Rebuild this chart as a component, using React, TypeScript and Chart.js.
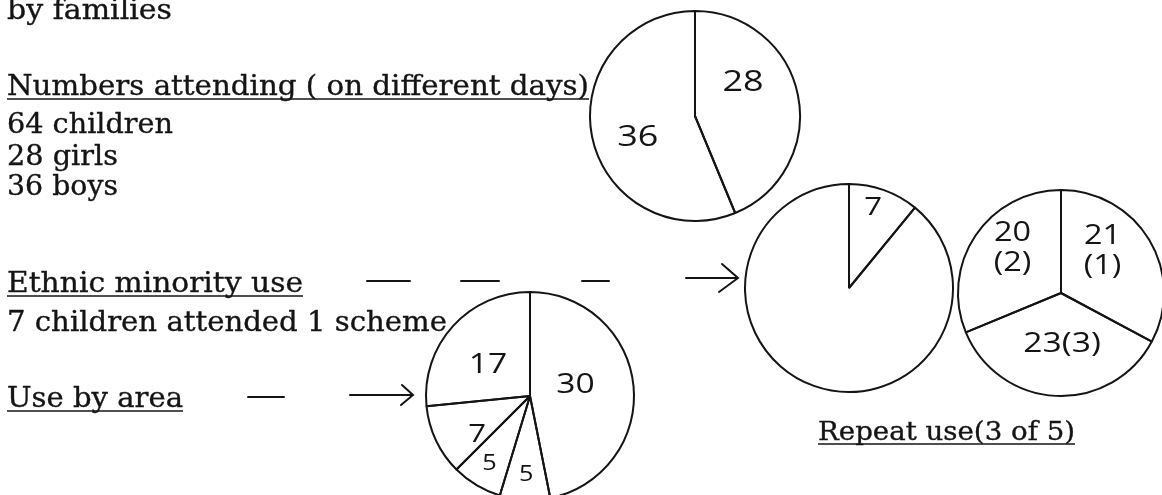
import React, { useEffect, useRef } from "react";
import { Chart, registerables } from "chart.js";

Chart.register(...registerables);

// ---------------- data ----------------
const genderLabels = ["Girls", "Boys"];
const genderValues = [28, 36];

const ethnicLabels = ["Ethnic minority", "Other children"];
const ethnicValues = [7, 57];

const repeatLabels = ["Scheme 1", "Scheme 3", "Scheme 2"];
const repeatValues = [21, 23, 20];
const repeatSchemes = [1, 3, 2];

const areaLabels = ["Area 1", "Area 2", "Area 3", "Area 4", "Area 5"];
const areaValues = [30, 5, 5, 7, 17];

const totalChildren = genderValues.reduce((a, b) => a + b, 0);

const headingTexts = [
  "by families",
  "Numbers attending ( on different days)",
  `${totalChildren} children`,
  `${genderValues[0]} girls`,
  `${genderValues[1]} boys`,
  "Ethnic minority use",
  `${ethnicValues[0]} children attended 1 scheme`,
  "Use by area",
  "Repeat use(3 of 5)",
];

// ---------------- layout / style ----------------
// [x, baseline, width, underlined, fontSize]
const textLayout: [number, number, number, boolean, number][] = [
  [7, 19, 165, false, 27],
  [7, 95, 582, true, 27],
  [7, 133, 166, false, 27],
  [7, 165, 111, false, 27],
  [7, 195, 111, false, 27],
  [7, 292, 296, true, 27],
  [7, 331, 440, false, 27],
  [7, 407, 176, true, 27],
  [818, 440, 257, true, 26],
];

const INK = "#141414";

const handLabels = {
  id: "handLabels",
  afterDatasetsDraw(chart: any, _args: any, opts: any) {
    const { ctx } = chart;
    const meta = chart.getDatasetMeta(0);
    meta.data.forEach((arc: any, i: number) => {
      const lines: string[] = opts.text[i];
      if (!lines || !lines.length) return;
      const p = arc.getProps(["x", "y", "startAngle", "endAngle", "outerRadius"], true);
      const place = opts.place[i];
      const mid = (p.startAngle + p.endAngle) / 2 + (place[0] * Math.PI) / 180;
      const d = p.outerRadius * place[1];
      const x = p.x + Math.cos(mid) * d;
      const y = p.y + Math.sin(mid) * d;
      const size = place[2] ?? opts.size;
      ctx.save();
      ctx.font = `${opts.weight} ${size}px ${opts.family}`;
      ctx.fillStyle = INK;
      ctx.textAlign = "center";
      ctx.textBaseline = "middle";
      ctx.translate(x, y);
      ctx.scale(opts.stretch, 1);
      const lh = size * 1.1;
      lines.forEach((t, k) => ctx.fillText(t, 0, (k - (lines.length - 1) / 2) * lh));
      ctx.restore();
    });
  },
};

type PieProps = {
  labels: string[];
  values: number[];
  text: string[][];
  place: number[][];
  cx: number;
  cy: number;
  r: number;
};

function HandPie({ labels, values, text, place, cx, cy, r }: PieProps) {
  const ref = useRef<HTMLCanvasElement>(null);
  const S = 2 * r + 10;
  useEffect(() => {
    const chart = new Chart(ref.current as HTMLCanvasElement, {
      type: "pie",
      data: {
        labels,
        datasets: [
          {
            data: values,
            backgroundColor: "rgba(255,255,255,0)",
            borderColor: INK,
            borderWidth: 2,
            hoverOffset: 0,
          } as any,
        ],
      },
      options: {
        responsive: false,
        maintainAspectRatio: false,
        animation: false,
        events: [],
        layout: { padding: 4 },
        plugins: {
          legend: { display: false },
          tooltip: { enabled: false },
          handLabels: {
            text,
            place,
            size: 30,
            weight: 400,
            family: "'Open Sans', 'DejaVu Sans', sans-serif",
            stretch: 1.2,
          },
        } as any,
      },
      plugins: [handLabels as any],
    });
    return () => chart.destroy();
  }, []);
  return (
    <canvas
      ref={ref}
      width={S}
      height={S}
      style={{ position: "absolute", left: cx - S / 2, top: cy - S / 2, width: S, height: S }}
    />
  );
}

export default function App() {
  const genderText = genderValues.map((v) => [String(v)]);
  const ethnicText = [[String(ethnicValues[0])], []];
  const repeatText = repeatValues.map((v, i) =>
    i === 1 ? [`${v}(${repeatSchemes[i]})`] : [String(v), `(${repeatSchemes[i]})`]
  );
  const areaText = areaValues.map((v) => [String(v)]);

  return (
    <div
      style={{
        position: "fixed",
        left: 0,
        top: 0,
        width: 1162,
        height: 495,
        overflow: "hidden",
        background: "#fff",
      }}
    >
      <HandPie
        labels={genderLabels}
        values={genderValues}
        text={genderText}
        place={[
          [-24, 0.56],
          [-9, 0.58],
        ]}
        cx={695}
        cy={116}
        r={105}
      />
      <HandPie
        labels={ethnicLabels}
        values={ethnicValues}
        text={ethnicText}
        place={[
          [-3, 0.81, 26],
          [0, 0.5],
        ]}
        cx={849}
        cy={288}
        r={104}
      />
      <HandPie
        labels={repeatLabels}
        values={repeatValues}
        text={repeatText}
        place={[
          [-14, 0.57, 27],
          [-4, 0.5, 28],
          [9, 0.64, 27],
        ]}
        cx={1061}
        cy={293}
        r={103}
      />
      <HandPie
        labels={areaLabels}
        values={areaValues}
        text={areaText}
        place={[
          [-8, 0.45, 28],
          [0, 0.76, 21],
          [0, 0.76, 21],
          [-11, 0.63, 26],
          [-6, 0.5, 28],
        ]}
        cx={530}
        cy={396}
        r={104}
      />
      <svg
        width={1162}
        height={495}
        style={{ position: "absolute", left: 0, top: 0, pointerEvents: "none" }}
      >
        {headingTexts.map((t, i) => {
          const [x, y, w, u, fs] = textLayout[i];
          return (
            <g key={i}>
              <text
                x={x}
                y={y}
                textLength={w}
                lengthAdjust="spacingAndGlyphs"
                fontFamily="'DejaVu Serif', serif"
                fontSize={fs}
                fill={INK}
                stroke={INK}
                strokeWidth={0.35}
              >
                {t}
              </text>
              {u && (
                <line x1={x} x2={x + w} y1={y + 4} y2={y + 4} stroke={INK} strokeWidth={1.6} />
              )}
            </g>
          );
        })}
        <g stroke={INK} strokeWidth={2} fill="none" strokeLinecap="round">
          <line x1={367} y1={281} x2={410} y2={281} />
          <line x1={461} y1={281} x2={499} y2={281} />
          <line x1={582} y1={281} x2={609} y2={281} />
          <line x1={686} y1={278} x2={737} y2={278} />
          <polyline points="722,264 738,278 719,292" />
          <line x1={248} y1={397} x2={284} y2={397} />
          <line x1={350} y1={395} x2={411} y2={395} />
          <polyline points="402,385 413,395 401,405" />
        </g>
      </svg>
    </div>
  );
}
